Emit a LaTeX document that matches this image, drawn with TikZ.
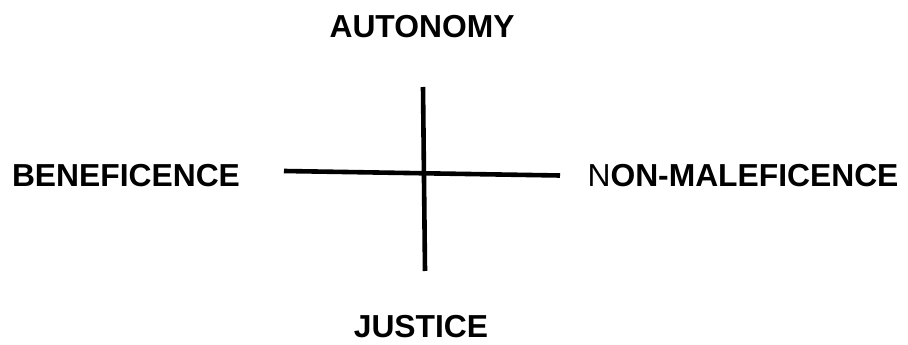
\documentclass[tikz,border=0pt]{standalone}
\usepackage{fontspec}
\setmainfont{Liberation Sans}
\begin{document}
\begin{tikzpicture}[
    x=1pt, y=-1pt,
    principle/.style={font=\fontsize{31.8}{36}\selectfont\bfseries, inner sep=0pt, anchor=center},
    axis/.style={line width=4.6pt, color=black}
]
\useasboundingbox (0,0) rectangle (908,345);

% --- Principles ---
\node[principle] (autonomy) at (422,27) {AUTONOMY};
\node[principle] (beneficence) at (126,176) {BENEFICENCE};
\node[principle] (nonmaleficence) at (743,176) {{\mdseries N}ON-MALEFICENCE};
\node[principle] (justice) at (421,327) {JUSTICE};

% --- Axis ends ---
\coordinate (top) at (423,87);
\coordinate (bottom) at (425,271);
\coordinate (left) at (284,171);
\coordinate (right) at (560,175.5);

% --- Cross ---
\draw[axis] (top) -- (bottom);
\draw[axis] (left) -- (right);

\end{tikzpicture}
\end{document}
